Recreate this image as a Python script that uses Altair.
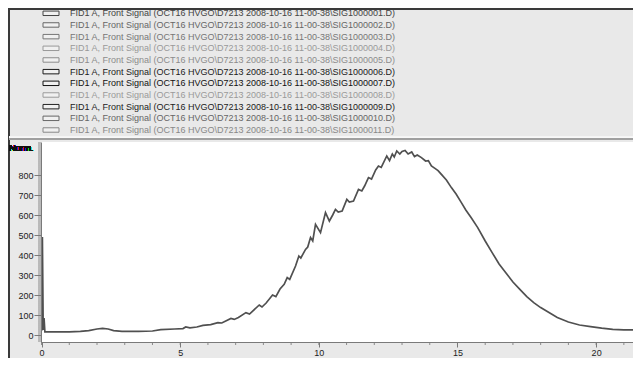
import altair as alt
import pandas as pd

# ---- data ----
rt = [0.00, 0.03, 0.06, 0.09, 0.12, 0.3, 1.0, 1.4, 1.7, 2.0, 2.2, 2.4, 2.6, 2.9, 3.5, 4.0,
      4.3, 4.8, 5.1, 5.2, 5.35, 5.6, 5.82, 6.1, 6.36, 6.5, 6.83, 6.95, 7.1, 7.37, 7.5, 7.85,
      7.95, 8.1, 8.33, 8.45, 8.6, 8.75, 8.86, 8.95, 9.16, 9.28, 9.35, 9.52, 9.6, 9.70, 9.78,
      9.88, 10.06, 10.24, 10.38, 10.5, 10.60, 10.7, 10.84, 11.01, 11.1, 11.25, 11.43, 11.55,
      11.65, 11.79, 11.9, 12.05, 12.15, 12.25, 12.45, 12.55, 12.65, 12.72, 12.81, 12.92, 13.0,
      13.11, 13.22, 13.35, 13.45, 13.55, 13.70, 13.85, 13.95, 14.06, 14.2, 14.3, 14.42, 14.6,
      14.78, 14.95, 15.14, 15.3, 15.49, 15.73, 16.0, 16.25, 16.5, 16.75, 17.0, 17.25, 17.5,
      17.75, 18.0, 18.3, 18.6, 19.0, 19.4, 19.8, 20.2, 20.6, 21.0, 21.6]
signal = [20, 490, 25, 85, 16, 16, 16, 18, 22, 30, 33, 30, 22, 18, 18, 20,
          27, 30, 32, 40, 36, 40, 48, 52, 62, 60, 83, 78, 88, 112, 105, 150,
          140, 160, 200, 192, 230, 253, 287, 278, 345, 395, 385, 428, 440, 487, 470,
          553, 512, 612, 570, 600, 628, 615, 620, 678, 665, 670, 728, 720,
          745, 787, 780, 825, 845, 838, 895, 872, 905, 890, 920, 905, 918,
          923, 905, 915, 892, 900, 887, 870, 872, 845, 832, 822, 803, 775,
          737, 705, 662, 625, 587, 537, 470, 412, 355, 310, 265, 228, 192,
          162, 137, 112, 87, 65, 50, 42, 34, 28, 26, 25]

legend_labels = [
    "FID1 A, Front Signal (OCT16 HVGO\\D7213 2008-10-16 11-00-38\\SIG10000%02d.D)" % i
    for i in range(1, 12)
]
legend_colors = ["#444444", "#666666", "#777777", "#999999", "#8c8c8c", "#1a1a1a",
                 "#111111", "#9a9a9a", "#222222", "#666666", "#888888"]

y_major = [0, 100, 200, 300, 400, 500, 600, 700, 800]
y_minor = list(range(-30, 970, 10))
x_major = [0, 5, 10, 15, 20]
x_minor = list(range(0, 22))

W, H = 592, 200
PAD_L, PAD_T = 33, 134

trace = pd.DataFrame({"rt": rt, "signal": signal})
leg = pd.DataFrame({"row": list(range(11)), "label": legend_labels, "color": legend_colors})
ymin_df = pd.DataFrame({"v": y_minor})
xmin_df = pd.DataFrame({"v": x_minor})

x_scale = alt.Scale(domain=[-0.02, 21.33], nice=False, zero=False)
y_scale = alt.Scale(domain=[-35, 965], nice=False, zero=False)

plot_bg = alt.Chart(trace).mark_rect(fill="white").encode(
    x=alt.value(0), x2=alt.value(W), y=alt.value(0), y2=alt.value(H))

line = alt.Chart(trace).mark_line(color="#505050", strokeWidth=1.7, clip=True).encode(
    x=alt.X("rt:Q", scale=x_scale, title=None,
            axis=alt.Axis(values=x_major, grid=False, tickSize=5, zindex=2,
                          tickColor="#7a7a7a", domainColor="#7a7a7a",
                          labelColor="#222222", labelFontSize=9, labelPadding=1,
                          labelFlush=False, labelOverlap=False)),
    y=alt.Y("signal:Q", scale=y_scale, title=None,
            axis=alt.Axis(values=y_major, grid=False, tickSize=7, zindex=2,
                          tickColor="#7a7a7a", domainColor="#7a7a7a",
                          labelColor="#222222", labelFontSize=9, labelPadding=1,
                          labelOverlap=False, labelFlush=False)),
)

y_minor_ticks = alt.Chart(ymin_df).mark_rule(color="#8a8a8a", strokeWidth=1).encode(
    x=alt.value(-3), x2=alt.value(0),
    y=alt.Y("v:Q", scale=y_scale, axis=None),
)
x_minor_ticks = alt.Chart(xmin_df).mark_rule(color="#8a8a8a", strokeWidth=1).encode(
    x=alt.X("v:Q", scale=x_scale, axis=None),
    y=alt.value(H), y2=alt.value(H + 3),
)

leg_scale = alt.Scale(domain=[0, 10], range=[-128.7, -12], nice=False, zero=False)

leg_text = alt.Chart(leg).mark_text(align="left", baseline="middle", fontSize=9,
                                    font="Liberation Sans").encode(
    x=alt.value(29),
    y=alt.Y("row:Q", scale=leg_scale, axis=None),
    text="label:N",
    color=alt.Color("color:N", scale=None),
)

leg_icon = alt.Chart(leg).transform_calculate(
    top="datum.row - 0.19", bot="datum.row + 0.19"
).mark_rect(fill="#f0f0f0", strokeWidth=1).encode(
    x=alt.value(2), x2=alt.value(18),
    y=alt.Y("top:Q", scale=leg_scale, axis=None),
    y2="bot:Q",
    stroke=alt.Color("color:N", scale=None),
)

frame_top = alt.Chart(trace).mark_rule(color="#3a3a3a", strokeWidth=1.5).encode(
    x=alt.value(-PAD_L), x2=alt.value(W), y=alt.value(-PAD_T + 0.75))
frame_left = alt.Chart(trace).mark_rule(color="#3a3a3a", strokeWidth=1.5).encode(
    x=alt.value(-PAD_L + 0.75), y=alt.value(-PAD_T), y2=alt.value(H + 20))
sep_light = alt.Chart(trace).mark_rule(color="#f8f8f8", strokeWidth=1.5).encode(
    x=alt.value(-PAD_L + 1.5), x2=alt.value(W), y=alt.value(-4.5))
sep_dark = alt.Chart(trace).mark_rule(color="#a0a0a0", strokeWidth=1.5).encode(
    x=alt.value(-PAD_L + 1.5), x2=alt.value(W), y=alt.value(-2.8))

norm = alt.Chart(trace).mark_text(text="Norm.", align="left", baseline="middle",
                                  fontSize=9, color="#111111").encode(
    x=alt.value(-32), y=alt.value(6))

chart = alt.layer(
    plot_bg, line, y_minor_ticks, x_minor_ticks, leg_icon, leg_text,
    frame_top, frame_left, sep_light, sep_dark, norm
).resolve_scale(x="independent", y="independent").properties(
    width=W, height=H,
    autosize=alt.AutoSizeParams(type="none"),
    padding={"left": PAD_L, "top": PAD_T, "right": 0, "bottom": 16},
    background="#e9e9e9",
).configure_view(stroke=None).configure(font="Liberation Sans")

chart.save("out.html", embed_options={"renderer": "svg", "actions": False})
